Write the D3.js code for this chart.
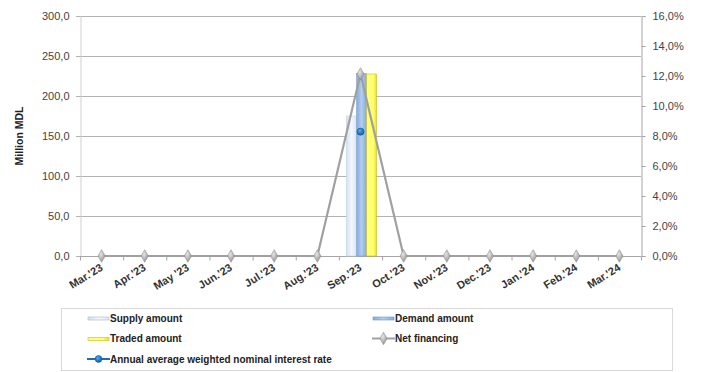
<!DOCTYPE html>
<html>
<head>
<meta charset="utf-8">
<script src="https://cdn.jsdelivr.net/npm/d3@7"></script>
<style>
  html, body { margin: 0; padding: 0; background: #fff; }
  svg { display: block; font-family: "Liberation Sans", Arial, sans-serif; }
</style>
</head>
<body>
<svg id="chart" width="703" height="372"></svg>
<script>
// Monthly auction results
const months = ["Mar.'23", "Apr.'23", "May '23", "Jun.'23", "Jul.'23", "Aug.'23", "Sep.'23",
                "Oct.'23", "Nov.'23", "Dec.'23", "Jan.'24", "Feb.'24", "Mar.'24"];
const supplyAmount = [null, null, null, null, null, null, 175.0, null, null, null, null, null, null];
const demandAmount = [null, null, null, null, null, null, 228.0, null, null, null, null, null, null];
const tradedAmount = [null, null, null, null, null, null, 227.5, null, null, null, null, null, null];
const netFinancing = [0, 0, 0, 0, 0, 0, 227.5, 0, 0, 0, 0, 0, 0];
const interestRate = [null, null, null, null, null, null, 8.29, null, null, null, null, null, null];
const leftTicks = [0, 50, 100, 150, 200, 250, 300];
const rightTicks = [0, 2, 4, 6, 8, 10, 12, 14, 16];

const svg = d3.select("#chart");
const defs = svg.append("defs");

function hGrad(id, stops) {
  const g = defs.append("linearGradient").attr("id", id)
    .attr("x1", "0%").attr("x2", "100%").attr("y1", "0%").attr("y2", "0%");
  stops.forEach(([o, c]) => g.append("stop").attr("offset", o).attr("stop-color", c));
}
hGrad("gSupply", [["0%", "#d3e0f1"], ["50%", "#f4f7fc"], ["100%", "#dce7f4"]]);
hGrad("gDemand", [["0%", "#86acdd"], ["50%", "#b3cdec"], ["100%", "#86acdd"]]);
hGrad("gTraded", [["0%", "#ffff80"], ["70%", "#ffff66"], ["100%", "#e6dc3a"]]);
const dg = defs.append("radialGradient").attr("id", "gDiamond")
  .attr("cx", "40%").attr("cy", "35%").attr("r", "70%");
dg.append("stop").attr("offset", "0%").attr("stop-color", "#e6e6e6");
dg.append("stop").attr("offset", "100%").attr("stop-color", "#8c8c8c");
const bg = defs.append("radialGradient").attr("id", "gDot")
  .attr("cx", "40%").attr("cy", "35%").attr("r", "70%");
bg.append("stop").attr("offset", "0%").attr("stop-color", "#5aa7e6");
bg.append("stop").attr("offset", "100%").attr("stop-color", "#0a5a9c");

const plotLeft = 80, plotRight = 641, plotTop = 16, plotBottom = 256;
const x = d3.scaleBand().domain(months).range([plotLeft, plotRight]);
const y = d3.scaleLinear().domain([0, 300]).range([plotBottom, plotTop]);
const y2 = d3.scaleLinear().domain([0, 16]).range([plotBottom, plotTop]);
const fmt1 = v => d3.format(".1f")(v).replace(".", ",");

// horizontal gridlines
svg.append("g").selectAll("line").data(leftTicks).join("line")
  .attr("x1", plotLeft - 4).attr("x2", plotRight)
  .attr("y1", d => y(d) + 0.5).attr("y2", d => y(d) + 0.5)
  .attr("stroke", "#b4b4b4").attr("stroke-width", 1);

// left axis
const gl = svg.append("g").attr("transform", `translate(${plotLeft + 0.5},0)`)
  .call(d3.axisLeft(y).tickValues(leftTicks).tickSize(4).tickFormat(fmt1));
gl.select(".domain").attr("stroke", "#d0d0d0");
gl.selectAll(".tick line").attr("stroke", "#b4b4b4");
gl.selectAll("text").attr("font-size", 11).attr("fill", "#444").attr("x", -11);

// right axis
const gr = svg.append("g").attr("transform", `translate(${plotRight + 0.5},0)`)
  .call(d3.axisRight(y2).tickValues(rightTicks).tickSize(4).tickFormat(d => fmt1(d) + "%"));
gr.select(".domain").attr("stroke", "#a6a6a6");
gr.selectAll(".tick line").attr("stroke", "#a6a6a6");
gr.selectAll("text").attr("font-size", 11).attr("fill", "#444").attr("x", 11);

// x axis: ticks at category boundaries
const gx = svg.append("g").attr("transform", `translate(0,${plotBottom + 0.5})`);
gx.append("line").attr("x1", plotLeft).attr("x2", plotRight).attr("stroke", "#a6a6a6");
gx.selectAll("line.b").data(d3.range(months.length + 1)).join("line").attr("class", "b")
  .attr("x1", i => plotLeft + i * x.step() + 0.5).attr("x2", i => plotLeft + i * x.step() + 0.5)
  .attr("y1", 0).attr("y2", 4).attr("stroke", "#a6a6a6");
gx.selectAll("text").data(months).join("text")
  .attr("transform", d => `translate(${x(d) + x.bandwidth() / 2 + 2},${13}) rotate(-32)`)
  .attr("text-anchor", "end").attr("font-size", 11).attr("font-weight", "bold")
  .attr("fill", "#333").text(d => d);

// y axis title
svg.append("text").attr("transform", `translate(23,${(plotTop + plotBottom) / 2}) rotate(-90)`)
  .attr("text-anchor", "middle").attr("font-size", 10.5).attr("font-weight", "bold")
  .attr("fill", "#222").text("Million MDL");

// bars
const barSeries = [
  { values: supplyAmount, fill: "url(#gSupply)", stroke: "#c2d3e8" },
  { values: demandAmount, fill: "url(#gDemand)", stroke: "#7aa1d3" },
  { values: tradedAmount, fill: "url(#gTraded)", stroke: "#c8bd1e" }
];
const xs = d3.scaleBand().domain(d3.range(barSeries.length)).range([-15, 15]).paddingInner(0.03);
barSeries.forEach((s, si) => {
  svg.append("g").selectAll("rect")
    .data(months.map((m, i) => ({ m, v: s.values[i] })).filter(d => d.v != null))
    .join("rect")
    .attr("x", d => x(d.m) + x.bandwidth() / 2 + 1 + xs(si))
    .attr("width", xs.bandwidth())
    .attr("y", d => y(d.v)).attr("height", d => y(0) - y(d.v))
    .attr("fill", s.fill).attr("stroke", s.stroke).attr("stroke-width", 0.6);
});

// net financing line with diamond markers
const cx = d => x(d) + x.bandwidth() / 2;
const netPts = months.map((m, i) => [cx(m), y(netFinancing[i])]);
svg.append("path").attr("d", d3.line()(netPts))
  .attr("fill", "none").attr("stroke", "#a0a0a0").attr("stroke-width", 2.2);
const diamond = d3.symbol().type(d3.symbolDiamond).size(46);
svg.append("g").selectAll("path").data(netPts).join("path")
  .attr("transform", d => `translate(${d[0]},${d[1]})`)
  .attr("d", diamond).attr("fill", "url(#gDiamond)").attr("stroke", "#8a8a8a").attr("stroke-width", 0.5);

// interest rate markers
svg.append("g").selectAll("circle")
  .data(months.map((m, i) => ({ m, v: interestRate[i] })).filter(d => d.v != null))
  .join("circle")
  .attr("cx", d => cx(d.m)).attr("cy", d => y2(d.v)).attr("r", 3.6)
  .attr("fill", "url(#gDot)").attr("stroke", "#0b4f8a").attr("stroke-width", 0.5);

// legend
const lg = svg.append("g");
lg.append("rect").attr("x", 61.5).attr("y", 308.5).attr("width", 611).attr("height", 62)
  .attr("fill", "#fff").attr("stroke", "#d9d9d9").attr("stroke-width", 1);
const legendItems = [
  { label: "Supply amount", kind: "bar", fill: "url(#gSupply)", stroke: "#a8b8cc", col: 0, row: 0 },
  { label: "Demand amount", kind: "bar", fill: "url(#gDemand)", stroke: "#6f97cc", col: 1, row: 0 },
  { label: "Traded amount", kind: "bar", fill: "url(#gTraded)", stroke: "#c8bd1e", col: 0, row: 1 },
  { label: "Net financing", kind: "diamond", col: 1, row: 1 },
  { label: "Annual average weighted nominal interest rate", kind: "dot", col: 0, row: 2 }
];
const colX = [87, 372], rowY = [318, 338.5, 359];
legendItems.forEach(it => {
  const gx0 = colX[it.col], gy = rowY[it.row];
  const g = lg.append("g");
  if (it.kind === "bar") {
    g.append("rect").attr("x", gx0 + 1).attr("y", gy - 1).attr("width", 21).attr("height", 3)
      .attr("fill", it.fill).attr("stroke", it.stroke).attr("stroke-width", 0.6);
  } else if (it.kind === "diamond") {
    g.append("line").attr("x1", gx0).attr("x2", gx0 + 23).attr("y1", gy).attr("y2", gy)
      .attr("stroke", "#a0a0a0").attr("stroke-width", 2);
    g.append("path").attr("transform", `translate(${gx0 + 11.5},${gy})`)
      .attr("d", diamond).attr("fill", "url(#gDiamond)").attr("stroke", "#8a8a8a").attr("stroke-width", 0.5);
  } else {
    g.append("line").attr("x1", gx0).attr("x2", gx0 + 23).attr("y1", gy).attr("y2", gy)
      .attr("stroke", "#1f6db0").attr("stroke-width", 2);
    g.append("circle").attr("cx", gx0 + 11.5).attr("cy", gy).attr("r", 3.4)
      .attr("fill", "url(#gDot)").attr("stroke", "#0b4f8a").attr("stroke-width", 0.5);
  }
  g.append("text").attr("x", gx0 + 23).attr("y", gy + 3.5)
    .attr("font-size", 10).attr("font-weight", "bold").attr("fill", "#222").text(it.label);
});
</script>
</body>
</html>
